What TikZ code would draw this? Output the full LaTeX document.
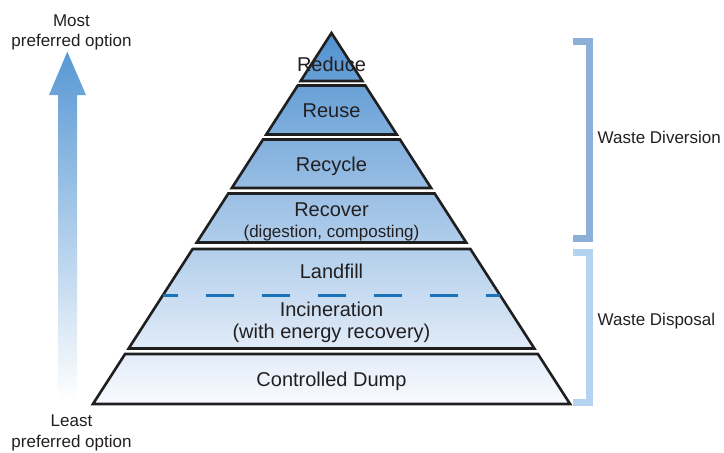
\documentclass[tikz,border=0pt]{standalone}
\usepackage{fontspec}
\setmainfont{Liberation Sans}
\definecolor{txt}{RGB}{35,31,32}
\definecolor{pyrtop}{RGB}{80,145,208}
\definecolor{pyrmid}{RGB}{175,199,234}
\definecolor{pyrbot}{RGB}{250,251,255}
\definecolor{arrtop}{RGB}{88,152,212}
\definecolor{arrmid}{RGB}{168,195,231}
\definecolor{divcol}{RGB}{141,176,216}
\definecolor{discol}{RGB}{180,211,240}
\definecolor{dashcol}{RGB}{26,114,187}
\begin{document}
\begin{tikzpicture}[x=1pt,y=-1pt,
  layer/.style={draw=black!88,line width=2.6pt,line join=miter},
  lbl/.style={text=txt,font=\fontsize{20}{24}\selectfont,inner sep=0pt,anchor=base},
  sub/.style={text=txt,font=\fontsize{17}{20}\selectfont,inner sep=0pt,anchor=base},
  side/.style={text=txt,font=\fontsize{17}{20}\selectfont,inner sep=0pt,anchor=base},
  brace/.style={line width=6.5pt,line join=miter}]
\useasboundingbox (0,0) rectangle (724,453);
% shading of the pyramid
\begin{scope}
\clip \foreach \t/\b in {33/81,85.5/134.5,139.5/188,193.5/242.5,249/348.5,354/404}
  {({331.5-0.643*(\t-33)},\t) -- ({331.5+0.643*(\t-33)},\t) -- ({331.5+0.643*(\b-33)},\b) -- ({331.5-0.643*(\b-33)},\b) -- cycle};
\shade[top color=pyrtop,middle color=pyrmid,bottom color=pyrbot] (90,30) rectangle (575,406);
\end{scope}
% outlines of the layers
\foreach \t/\b in {33/81,85.5/134.5,139.5/188,193.5/242.5,249/348.5,354/404}
  \draw[layer] ({331.5-0.643*(\t-33)},\t) -- ({331.5+0.643*(\t-33)},\t) -- ({331.5+0.643*(\b-33)},\b) -- ({331.5-0.643*(\b-33)},\b) -- cycle;
\draw[dashcol,line width=3pt,dash pattern=on 28pt off 28pt,dash phase=12.7pt] (162.7,295.5) -- (500.3,295.5);
% labels of the layers
\node[lbl] (reduce) at (331.5,71) {Reduce};
\node[lbl] (reuse) at (331.5,117) {Reuse};
\node[lbl] (recycle) at (331.5,171) {Recycle};
\node[lbl] (recover) at (331.5,216) {Recover};
\node[sub] (recoversub) at (331.5,237) {(digestion, composting)};
\node[lbl] (landfill) at (331.5,278) {Landfill};
\node[lbl] (incin) at (331.5,316) {Incineration};
\node[lbl] (incinsub) at (331.5,338.5) {(with energy recovery)};
\node[lbl] (dump) at (331.5,386.5) {Controlled Dump};
% preference arrow
\shade[top color=arrtop,middle color=arrmid,bottom color=white] (67.3,51.7) -- (86,95) -- (77,95) -- (77,401) -- (58,401) -- (58,95) -- (49,95) -- cycle;
\node[side] (most) at (71.5,26.7) {Most};
\node[side] (mostb) at (71.5,46.7) {preferred option};
\node[side] (least) at (71.5,426.7) {Least};
\node[side] (leastb) at (71.5,447) {preferred option};
% brackets
\draw[brace,divcol] (573,41.5) -| (589.5,238.5) -- (573,238.5);
\draw[brace,discol] (573,252.5) -| (589.5,402.5) -- (573,402.5);
\node[side,anchor=base west] (diversion) at (597.5,143.3) {Waste Diversion};
\node[side,anchor=base west] (disposal) at (597.5,325.5) {Waste Disposal};
\end{tikzpicture}
\end{document}
